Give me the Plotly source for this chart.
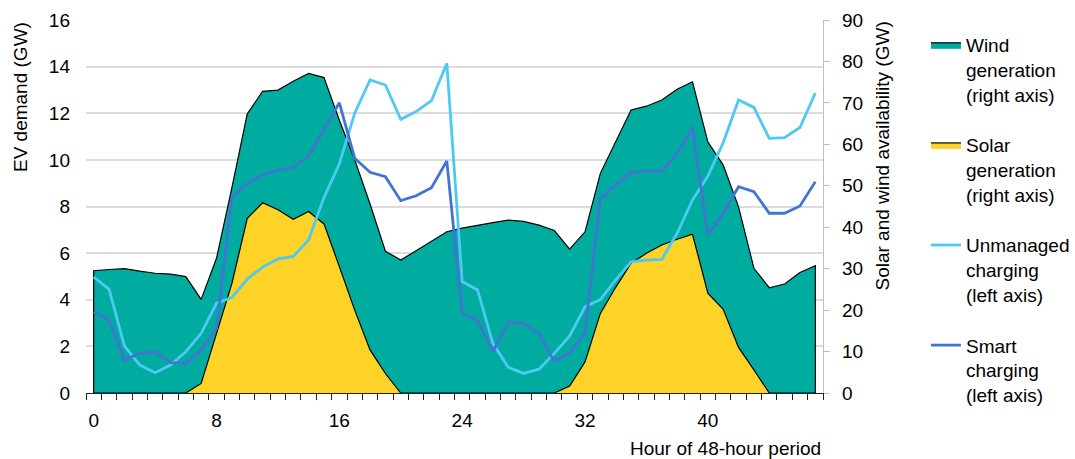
import plotly.graph_objects as go

hours = list(range(48))
x_tick_vals = [0, 8, 16, 24, 32, 40]
x_tick_labels = ["0", "8", "16", "24", "32", "40"]

# Right axis (GW)
wind_gw = [29.5, 29.8, 30.0, 29.4, 28.9, 28.7, 28.1, 22.6, 32.5, 49.5,
           67.3, 72.8, 73.1, 75.2, 77.1, 76.1, 65.8, 56.3, 45.6, 34.2,
           32.1, 34.3, 36.7, 38.9, 39.8, 40.5, 41.1, 41.7, 41.4, 40.5,
           39.2, 34.7, 38.9, 53.0, 60.8, 68.3, 69.2, 70.7, 73.3, 75.1,
           60.6, 55.0, 44.9, 30.1, 25.4, 26.3, 29.1, 30.7]
solar_gw = [0, 0, 0, 0, 0, 0, 0, 2.3, 14.1, 26.4,
            42.1, 45.9, 44.2, 41.9, 43.8, 40.8, 30.5, 20.0, 10.4, 4.7,
            0, 0, 0, 0, 0, 0, 0, 0, 0, 0,
            0, 1.7, 7.5, 19.2, 25.5, 31.3, 33.7, 35.7, 37.1, 38.3,
            24.1, 20.2, 11.0, 5.6, 0, 0, 0, 0]
# Left axis (GW)
unmanaged_gw = [4.97, 4.46, 2.02, 1.2, 0.87, 1.2, 1.77, 2.56, 3.85, 4.09,
                4.89, 5.4, 5.75, 5.86, 6.57, 8.38, 9.83, 12.0, 13.43, 13.21,
                11.74, 12.07, 12.54, 14.14, 4.78, 4.42, 2.13, 1.1, 0.84, 1.02,
                1.7, 2.45, 3.7, 4.01, 4.85, 5.63, 5.7, 5.73, 6.85, 8.28,
                9.3, 10.74, 12.57, 12.25, 10.92, 10.95, 11.39, 12.87]
smart_gw = [3.48, 3.12, 1.41, 1.7, 1.77, 1.3, 1.28, 1.84, 2.77, 8.38,
            8.99, 9.35, 9.56, 9.65, 10.17, 11.3, 12.45, 10.07, 9.47, 9.28,
            8.25, 8.46, 8.81, 9.95, 3.39, 3.13, 1.77, 3.03, 2.99, 2.56,
            1.34, 1.74, 2.59, 8.35, 8.92, 9.47, 9.52, 9.52, 10.28, 11.38,
            6.78, 7.71, 8.85, 8.64, 7.71, 7.71, 8.02, 9.06]

names = ["Wind<br>generation<br>(right axis)",
         "Solar<br>generation<br>(right axis)",
         "Unmanaged<br>charging<br>(left axis)",
         "Smart<br>charging<br>(left axis)"]

FONT = "Liberation Sans, Arial, sans-serif"
TEAL = "#00AB9F"
YELLOW = "#FDD327"
LIGHT = "#4DC9F4"
DARK = "#4474D2"


def closed(xs, ys):
    return [xs[0]] + list(xs) + [xs[-1]], [0] + list(ys) + [0]


fig = go.Figure()
wx, wy = closed(hours, wind_gw)
fig.add_trace(go.Scatter(x=wx, y=wy, mode="lines", fill="toself", fillcolor=TEAL,
                         line=dict(color="black", width=1.2), name=names[0],
                         yaxis="y", legendgroup="a"))
sx, sy = closed(hours, solar_gw)
fig.add_trace(go.Scatter(x=sx, y=sy, mode="lines", fill="toself", fillcolor=YELLOW,
                         line=dict(color="black", width=1.2), name=names[1],
                         yaxis="y", legendgroup="b"))
fig.add_trace(go.Scatter(x=hours, y=unmanaged_gw, mode="lines",
                         line=dict(color=LIGHT, width=2.8), name=names[2],
                         yaxis="y2", legendgroup="c"))
fig.add_trace(go.Scatter(x=hours, y=smart_gw, mode="lines",
                         line=dict(color=DARK, width=2.8), name=names[3],
                         yaxis="y2", legendgroup="d"))

fig.update_layout(
    width=1075, height=459,
    margin=dict(l=86, r=252, t=20, b=66, autoexpand=False),
    paper_bgcolor="white", plot_bgcolor="white",
    font=dict(family=FONT, size=19, color="#000000"),
    showlegend=True,
    legend=dict(x=1.1397, y=0.984, xanchor="left", yanchor="top",
                valign="top", tracegroupgap=23, itemwidth=30, maxheight=440,
                font=dict(size=19, family=FONT, color="#000000"),
                bgcolor="rgba(0,0,0,0)"),
    xaxis=dict(range=[-0.5, 47.5], tickvals=x_tick_vals, ticktext=x_tick_labels,
               ticks="", showline=True, linecolor="#222222", linewidth=1.3,
               showgrid=False, zeroline=False, ticklabelstandoff=10, automargin=False,
               minor=dict(ticks="outside", tick0=-0.5, dtick=1, ticklen=6,
                          tickcolor="#222222", tickwidth=1.3, showgrid=False)),
    yaxis=dict(range=[0, 90], dtick=10, side="right", showline=True,
               linecolor="#BFBFBF", linewidth=1.3, ticks="outside", ticklen=6,
               tickcolor="#BFBFBF", tickwidth=1.3, showgrid=False, zeroline=False,
               ticklabelstandoff=8, automargin=False),
    yaxis2=dict(range=[0, 16], dtick=2, side="left", overlaying="y",
                showgrid=True, gridcolor="#DCDCDC", gridwidth=1.5, automargin=False,
                showline=False, ticks="", zeroline=False, ticklabelstandoff=15),
    annotations=[
        dict(text="EV demand (GW)", xref="paper", yref="paper", x=-0.0895, y=1.0,
             xanchor="center", yanchor="top", textangle=-90, showarrow=False,
             font=dict(size=19)),
        dict(text="Solar and wind availability (GW)", xref="paper", yref="paper",
             x=1.0801, y=1.0, xanchor="center", yanchor="top", textangle=-90,
             showarrow=False, font=dict(size=19)),
        dict(text="Hour of 48-hour period", xref="paper", yref="paper", x=1.0,
             y=-0.1475, xanchor="right", yanchor="middle", showarrow=False,
             font=dict(size=19)),
    ],
)

fig.write_html("out.html", config={"displayModeBar": False},
               post_script="document.body.style.margin='0';document.body.style.overflow='hidden';")
